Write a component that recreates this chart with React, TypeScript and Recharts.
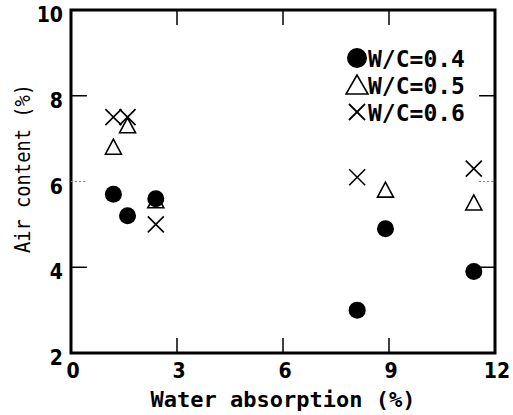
import React from 'react'
import {
  ScatterChart,
  Scatter,
  XAxis,
  YAxis,
  ReferenceLine,
  ReferenceArea,
} from 'recharts'

// W/C = 0.4 (filled circles)
const wc04 = [
  { x: 1.2, y: 5.7 },
  { x: 1.6, y: 5.2 },
  { x: 2.4, y: 5.6 },
  { x: 8.1, y: 3.0 },
  { x: 8.9, y: 4.9 },
  { x: 11.4, y: 3.9 },
]

// W/C = 0.5 (open triangles)
const wc05 = [
  { x: 1.2, y: 6.8 },
  { x: 1.6, y: 7.3 },
  { x: 2.4, y: 5.55 },
  { x: 8.9, y: 5.8 },
  { x: 11.4, y: 5.5 },
]

// W/C = 0.6 (crosses)
const wc06 = [
  { x: 1.2, y: 7.5 },
  { x: 1.6, y: 7.5 },
  { x: 2.4, y: 5.0 },
  { x: 8.1, y: 6.1 },
  { x: 11.4, y: 6.3 },
]

const xTicks = [0, 3, 6, 9, 12]
const yTicks = [2, 4, 6, 8, 10]
const seriesNames = ['W/C=0.4', 'W/C=0.5', 'W/C=0.6']

const MONO = '"DejaVu Sans Mono", monospace'
const COND = '"DejaVu Sans Condensed", "DejaVu Sans", sans-serif'

const Dot = (p: any) => <circle cx={p.cx} cy={p.cy} r={8.5} fill="#000" />
const Tri = (p: any) => (
  <polygon
    points={`${p.cx},${p.cy - 8} ${p.cx - 8},${p.cy + 7} ${p.cx + 8},${p.cy + 7}`}
    fill="none"
    stroke="#000"
    strokeWidth={1.6}
  />
)
const Cross = (p: any) => (
  <g stroke="#000" strokeWidth={1.6}>
    <line x1={p.cx - 8} y1={p.cy - 8} x2={p.cx + 8} y2={p.cy + 8} />
    <line x1={p.cx - 8} y1={p.cy + 8} x2={p.cx + 8} y2={p.cy - 8} />
  </g>
)

const YTick = (p: any) => (
  <text x={p.x} y={p.y} dy={12} textAnchor="end" fontFamily={COND} fontWeight="bold" fontSize={21} fill="#000">
    {p.payload.value}
  </text>
)
const XTick = (p: any) => (
  <text x={p.x + 2} y={p.y} dy={17} textAnchor="middle" fontFamily={COND} fontWeight="bold" fontSize={21} fill="#000">
    {p.payload.value}
  </text>
)

const LegendBox = () => (
  <svg width={170} height={90} style={{ position: 'absolute', left: 345, top: 44 }}>
    {seriesNames.map((n, i) => {
      const cy = 14 + i * 27
      return (
        <g key={n}>
          {i === 0 && <circle cx={12} cy={cy} r={10} fill="#000" />}
          {i === 1 && (
            <polygon points={`12,${cy - 10} 1,${cy + 9} 23,${cy + 9}`} fill="none" stroke="#000" strokeWidth={1.6} />
          )}
          {i === 2 && (
            <g stroke="#000" strokeWidth={1.8}>
              <line x1={4} y1={cy - 8} x2={20} y2={cy + 8} />
              <line x1={4} y1={cy + 8} x2={20} y2={cy - 8} />
            </g>
          )}
          <text x={23} y={cy + 9} fontFamily={MONO} fontWeight="bold" fontSize={23} fill="#000">
            {n}
          </text>
        </g>
      )
    })}
  </svg>
)

export default function App() {
  return (
    <div style={{ position: 'absolute', left: 0, top: 0, width: 513, height: 415, background: '#fff' }}>
      <ScatterChart width={513} height={415} margin={{ top: 10, right: 18, left: 0, bottom: 0 }}>
        <XAxis
          type="number"
          dataKey="x"
          domain={[0, 12]}
          ticks={xTicks}
          axisLine={false}
          tickLine={false}
          height={62}
          tick={<XTick />}
          label={{
            value: 'Water absorption (%)',
            position: 'insideBottom',
            offset: 8,
            style: { fontFamily: MONO, fontWeight: 'bold', fontSize: 22, fill: '#000' },
          }}
        />
        <YAxis
          type="number"
          dataKey="y"
          domain={[2, 10]}
          ticks={yTicks}
          axisLine={false}
          tickLine={false}
          width={71}
          tick={<YTick />}
          label={{
            content: (lp: any) => {
              const vb = lp.viewBox
              const cx = vb.x + 22
              const cy = vb.y + vb.height / 2 - 13
              return (
                <text
                  transform={`translate(${cx} ${cy}) rotate(-90) scale(0.85 1)`}
                  textAnchor="middle"
                  dominantBaseline="central"
                  fontFamily={MONO}
                  fontSize={22}
                  fill="#000"
                >
                  Air content (%)
                </text>
              )
            },
          }}
        />
        {[4, 8].map((v) => (
          <ReferenceLine key={'l' + v} segment={[{ x: 0, y: v }, { x: 0.45, y: v }]} stroke="#000" strokeWidth={1.5} />
        ))}
        {[4, 8].map((v) => (
          <ReferenceLine key={'r' + v} segment={[{ x: 11.55, y: v }, { x: 12, y: v }]} stroke="#000" strokeWidth={1.5} />
        ))}
        <ReferenceLine segment={[{ x: 0, y: 6 }, { x: 0.45, y: 6 }]} stroke="#888" strokeDasharray="2 2" />
        <ReferenceLine segment={[{ x: 11.55, y: 6 }, { x: 12, y: 6 }]} stroke="#888" strokeDasharray="2 2" />
        {[3, 6, 9].map((v) => (
          <ReferenceLine key={'b' + v} segment={[{ x: v, y: 2 }, { x: v, y: 2.35 }]} stroke="#000" strokeWidth={1.5} />
        ))}
        {[3, 6, 9].map((v) => (
          <ReferenceLine key={'t' + v} segment={[{ x: v, y: 9.65 }, { x: v, y: 10 }]} stroke="#000" strokeWidth={1.5} />
        ))}
        <ReferenceArea x1={0} x2={12} y1={2} y2={10} fill="none" stroke="#000" strokeWidth={3} />
        <Scatter name={seriesNames[1]} data={wc05} shape={<Tri />} isAnimationActive={false} />
        <Scatter name={seriesNames[2]} data={wc06} shape={<Cross />} isAnimationActive={false} />
        <Scatter name={seriesNames[0]} data={wc04} shape={<Dot />} isAnimationActive={false} />
      </ScatterChart>
      <LegendBox />
    </div>
  )
}
